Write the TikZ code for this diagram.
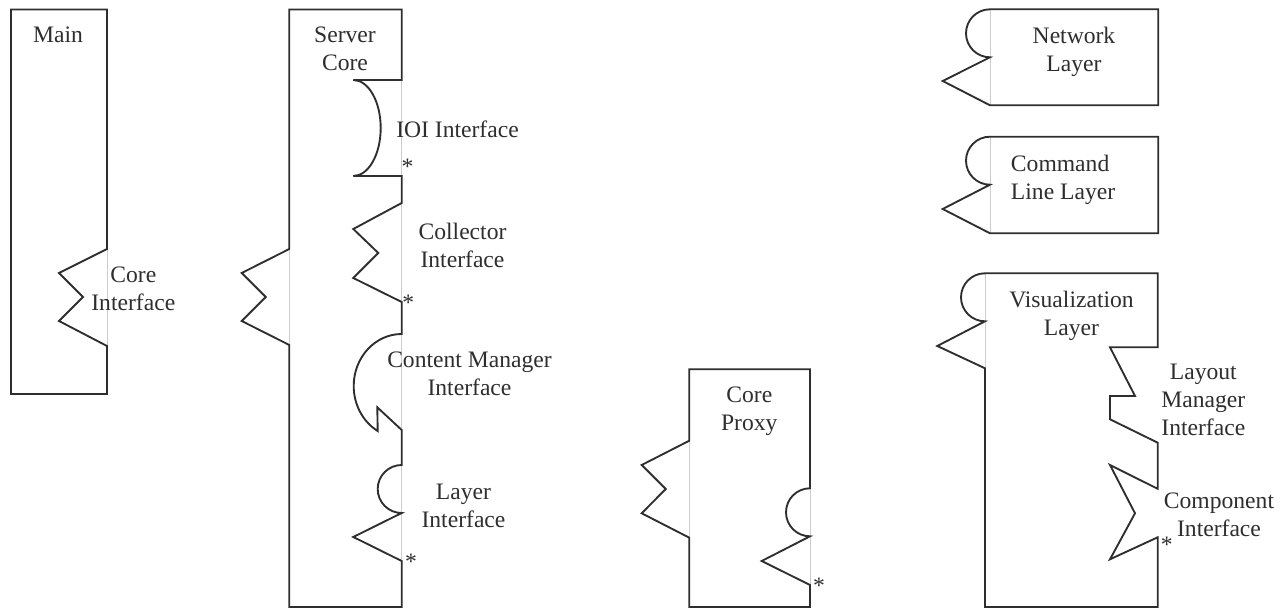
\documentclass[tikz,border=0pt]{standalone}
\usepackage{fontspec}
\setmainfont{Liberation Serif}
\definecolor{linec}{HTML}{2E2E2E}
\definecolor{textc}{HTML}{2E2E2E}
\definecolor{ghostc}{HTML}{CCCCCC}
\begin{document}
\begin{tikzpicture}[x=0.75pt,y=-0.75pt,
  comp/.style={draw=linec, line width=1.4pt, line join=miter},
  ghost/.style={draw=ghostc, line width=0.6pt},
  lbl/.style={font=\fontsize{17.7}{21}\selectfont, text=textc, inner sep=0pt, align=center},
  star/.style={font=\fontsize{17.7}{21}\selectfont, text=textc, inner sep=0pt, anchor=base}]
\useasboundingbox (0,0) rectangle (1286,609);

% ---------- Main ----------
\draw[ghost] (107,249) -- (107,346);
\draw[comp] (107,249) -- (59,273) -- (83,297) -- (59,321) -- (107,346)
  -- (107,394) -- (11,394) -- (11,9.5) -- (107,9.5) -- cycle;
\node[lbl] (main) at (58,35) {Main};
\node[lbl] (coreif) at (133.3,289) {Core\\Interface};

% ---------- Server Core ----------
\draw[ghost] (289.3,249) -- (289.3,345);
\draw[ghost] (401.7,80) -- (401.7,176);
\draw[ghost] (401.7,203) -- (401.7,302);
\draw[ghost] (401.7,334) -- (401.7,430);
\draw[ghost] (401.7,465) -- (401.7,561);
\draw[comp] (289.3,9.5) -- (401.7,9.5) -- (401.7,80) -- (353.3,80)
  arc[start angle=90, end angle=-90, x radius=20.55pt, y radius=36pt]
  -- (401.7,176) -- (401.7,203) -- (353.3,229) -- (378.3,253) -- (353.3,278) -- (401.7,302)
  -- (401.7,334)
  arc[start angle=90, end angle=240, x radius=36pt, y radius=39pt]
  -- (377.3,407.3) -- (401.7,430) -- (401.7,465)
  arc[start angle=90, end angle=270, radius=18pt]
  -- (353.3,537) -- (401.7,561) -- (401.7,607) -- (289.3,607) -- (289.3,345)
  -- (241.7,321) -- (265.7,297) -- (241.7,273) -- (289.3,249) -- cycle;
\node[lbl] (server) at (345,49) {Server\\Core};
\node[lbl] (ioi) at (457.5,129) {IOI Interface};
\node[star] (s1) at (407.5,174.5) {*};
\node[lbl] (coll) at (462.5,245) {Collector\\Interface};
\node[star] (s2) at (408.3,310.5) {*};
\node[lbl] (cm) at (469.5,374) {Content Manager\\Interface};
\node[lbl] (layer) at (463.5,506) {Layer\\Interface};
\node[star] (s3) at (411,569.5) {*};

% ---------- Core Proxy ----------
\draw[ghost] (689.3,440.7) -- (689.3,537.7);
\draw[ghost] (810,488.3) -- (810,585);
\draw[comp] (689.3,369.3) -- (810,369.3) -- (810,488.3)
  arc[start angle=90, end angle=270, radius=18pt]
  -- (761.7,561) -- (810,585) -- (810,607) -- (689.3,607) -- (689.3,537.7)
  -- (641.7,513.3) -- (665.7,489) -- (641.7,465) -- (689.3,440.7) -- cycle;
\node[lbl] (proxy) at (749.3,411.5) {Core\\Proxy};
\node[star] (s4) at (819,594) {*};

% ---------- Network Layer ----------
\draw[ghost] (990,9.3) -- (990,105.3);
\draw[comp] (990,9.3) arc[start angle=90, end angle=270, radius=18pt]
  -- (942.7,81) -- (990,105.3) -- (1158.3,105.3) -- (1158.3,9.3) -- cycle;
\node[lbl] (net) at (1074,51.5) {Network\\Layer};

% ---------- Command Line Layer ----------
\draw[ghost] (990,136.7) -- (990,233.3);
\draw[comp] (990,136.7) arc[start angle=90, end angle=270, radius=18pt]
  -- (942.7,209) -- (990,233.3) -- (1158.3,233.3) -- (1158.3,136.7) -- cycle;
\node[lbl, anchor=west, align=left] (cmd) at (1010.7,180) {Command\\Line Layer};

% ---------- Visualization Layer ----------
\draw[ghost] (985,273.3) -- (985,368.3);
\draw[comp] (985,273.3) arc[start angle=90, end angle=270, radius=18pt]
  -- (937.3,346) -- (985,368.3) -- (985,607) -- (1157.7,607) -- (1157.7,537.3)
  -- (1110,559.3) -- (1135,513.3) -- (1110,465) -- (1157.7,488.8) -- (1157.7,442.7)
  -- (1110,419.3) -- (1110,396) -- (1135,396) -- (1110,347.3) -- (1157.7,347.3)
  -- (1157.7,273.3) -- cycle;
\node[lbl] (vis) at (1071.5,316) {Visualization\\Layer};
\node[lbl] (layout) at (1203.3,400) {Layout\\Manager\\Interface};
\node[lbl] (compif) at (1219,514.5) {Component\\Interface};
\node[star] (s5) at (1166.7,552) {*};
\end{tikzpicture}
\end{document}
